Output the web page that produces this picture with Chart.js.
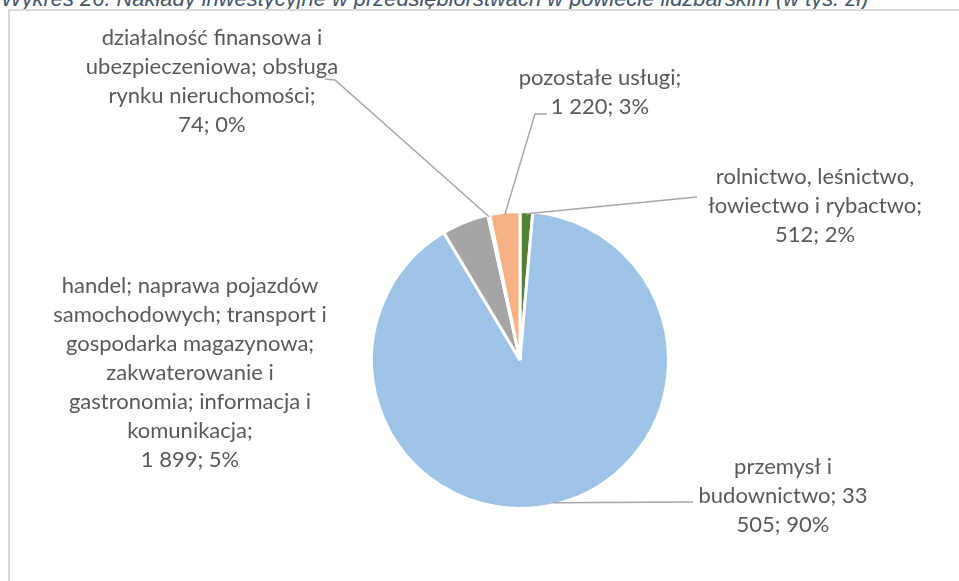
<!DOCTYPE html>
<html>
<head>
<meta charset="utf-8">
<script src="https://cdn.jsdelivr.net/npm/chart.js@4.4.1/dist/chart.umd.min.js"></script>
<style>
    html, body { margin: 0; padding: 0; background: #fff; overflow: hidden; }
    .wrap { position: relative; width: 959px; height: 581px; }
    .title {
        position: absolute; left: 1px; top: -12px; white-space: nowrap;
        font-family: "Liberation Sans", Arial, sans-serif; font-style: italic;
        font-size: 21.9px; line-height: 21.9px; color: #44546A;
    }
    .frame {
        position: absolute; left: 8px; top: 9px; width: 1000px; height: 700px;
        border: 2px solid #D9D9D9; box-sizing: border-box;
    }
    canvas { position: absolute; left: 0; top: 0; }
</style>
</head>
<body>
<div class="wrap">
    <div class="title">Wykres 26. Nakłady inwestycyjne w przedsiębiorstwach w powiecie lidzbarskim (w tys. zł)</div>
    <div class="frame"></div>
    <canvas id="chartContext" width="959" height="581"></canvas>
</div>
<script>
// Data (tys. zł) - slice order clockwise from 12 o'clock, as in the source chart
const categories = [
    "rolnictwo, leśnictwo, łowiectwo i rybactwo",
    "przemysł i budownictwo",
    "handel; naprawa pojazdów samochodowych; transport i gospodarka magazynowa; zakwaterowanie i gastronomia; informacja i komunikacja",
    "działalność finansowa i ubezpieczeniowa; obsługa rynku nieruchomości",
    "pozostałe usługi"
];
const values = [512, 33505, 1899, 74, 1220];
const percentLabels = ["2%", "90%", "5%", "0%", "3%"];
const colors = ["#548235", "#9DC3E6", "#A5A5A5", "#FFD966", "#F4B183"];

// Data label text, wrapped the way it appears in the picture
const labelLines = [
    ["rolnictwo, leśnictwo,", "łowiectwo i rybactwo;", "512; 2%"],
    ["przemysł i", "budownictwo; 33", "505; 90%"],
    ["handel; naprawa pojazdów", "samochodowych; transport i", "gospodarka magazynowa;", "zakwaterowanie i", "gastronomia; informacja i", "komunikacja;", "1 899; 5%"],
    ["działalność finansowa i", "ubezpieczeniowa; obsługa", "rynku nieruchomości;", "74; 0%"],
    ["pozostałe usługi;", "1 220; 3%"]
];

// Label placement: centre x, y of first line, and leader line points from the label side
const labelLayout = [
    { x: 815, y: 177, leader: [[697, 197]] },
    { x: 783, y: 467, leader: [[693, 502]] },
    { x: 190, y: 286, leader: null },
    { x: 212, y: 38, leader: [[325, 79], [335, 80]] },
    { x: 600, y: 78, leader: [[547, 114], [535, 114]] }
];

const lineHeight = 29;

// Draws data labels and leader lines next to the slices
const pieLabels = {
    id: "pieLabels",
    afterDraw(chart) {
        const ctx = chart.ctx;
        const arcs = chart.getDatasetMeta(0).data;
        ctx.save();
        arcs.forEach((arc, i) => {
            const lay = labelLayout[i];
            if (lay.leader) {
                const p = arc.getProps(["x", "y", "startAngle", "endAngle", "outerRadius"], true);
                const mid = (p.startAngle + p.endAngle) / 2;
                const ex = p.x + Math.cos(mid) * (p.outerRadius - 2);
                const ey = p.y + Math.sin(mid) * (p.outerRadius - 2);
                ctx.beginPath();
                ctx.strokeStyle = "#A6A6A6";
                ctx.lineWidth = 1.5;
                ctx.moveTo(lay.leader[0][0], lay.leader[0][1]);
                lay.leader.slice(1).forEach(pt => ctx.lineTo(pt[0], pt[1]));
                ctx.lineTo(ex, ey);
                ctx.stroke();
            }
            ctx.fillStyle = "#595959";
            ctx.font = "22px Lato";
            ctx.textAlign = "center";
            ctx.textBaseline = "middle";
            labelLines[i].forEach((line, k) => {
                ctx.fillText(line, lay.x, lay.y + k * lineHeight);
            });
        });
        ctx.restore();
    }
};

new Chart(document.getElementById("chartContext"), {
    type: "pie",
    data: {
        labels: categories,
        datasets: [{
            data: values,
            backgroundColor: colors,
            borderColor: "#FFFFFF",
            borderWidth: 3
        }]
    },
    options: {
        responsive: false,
        animation: false,
        layout: { padding: { left: 370, right: 289, top: 210, bottom: 71 } },
        plugins: {
            legend: { display: false },
            tooltip: { enabled: false }
        }
    },
    plugins: [pieLabels]
});
</script>
</body>
</html>
